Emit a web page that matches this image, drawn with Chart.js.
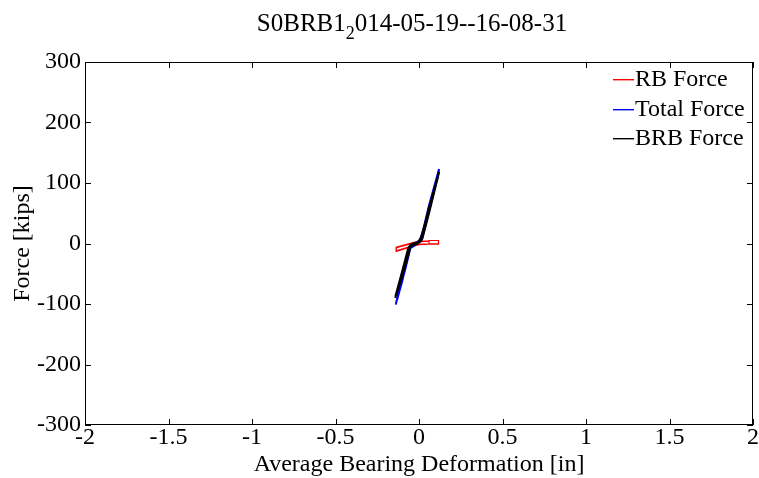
<!DOCTYPE html>
<html>
<head>
<meta charset="utf-8">
<script src="https://cdn.jsdelivr.net/npm/chart.js@4.4.1/dist/chart.umd.min.js"></script>
<style>
  html, body { margin: 0; padding: 0; background: #fff; }
  #wrap { position: relative; width: 759px; height: 478px; }
  #title {
    position: absolute; left: 77px; width: 670px; top: 9px;
    text-align: center; font-family: "Liberation Serif", serif; font-size: 25px; line-height: 28px; color: #000;
  }
  #title sub { font-size: 18px; vertical-align: -8px; line-height: 0; }
  canvas { position: absolute; left: 0; top: 0; }
</style>
</head>
<body>
<div id="wrap">
  <canvas id="myChart" width="759" height="478"></canvas>
  <div id="title">S0BRB1<sub>2</sub>014-05-19--16-08-31</div>
</div>
<script>
// axis ticks
const xTicks = [-2, -1.5, -1, -0.5, 0, 0.5, 1, 1.5, 2];
const yTicks = [-300, -200, -100, 0, 100, 200, 300];

// RB force loop [in, kips]
const rbX = [0.117, 0.06, 0.0, -0.03, -0.137, -0.137, -0.03, 0.0, 0.06, 0.117, 0.117, 0.06, 0.06, 0.06, 0.0, -0.03, -0.135, -0.136, -0.03, 0.0, 0.117];
const rbY = [5, 5, 4, 2, -6, -13, -4, -2, -1, -1, 5, 5, -1, 4, 3, 1, -7, -12, -3, -1, 0];

// total force loops
const totalX = [-0.139, -0.1, -0.065, -0.05, -0.02, 0.005, 0.02, 0.06, 0.12, 0.117, 0.06, 0.02, 0.0, -0.03, -0.055, -0.07, -0.1, -0.139, -0.12, -0.08, -0.06, -0.03, 0.0, 0.015, 0.05, 0.115, 0.112, 0.05, 0.015, -0.01, -0.05, -0.08, -0.13];
const totalY = [-101, -52, -12, -4, 0, 6, 17, 63, 123, 116, 54, 10, 3, -4, -8, -25, -62, -100, -80, -35, -10, -2, 2, 12, 50, 118, 110, 44, 6, 0, -6, -40, -92];

// BRB force loops
const brbX = [-0.142, -0.1, -0.065, -0.05, -0.02, 0.005, 0.02, 0.06, 0.12, 0.115, 0.06, 0.02, 0.0, -0.03, -0.055, -0.07, -0.1, -0.142, -0.125, -0.085, -0.062, -0.035, -0.005, 0.012, 0.05, 0.116, 0.11, 0.05, 0.012, -0.01, -0.05, -0.08, -0.135];
const brbY = [-88, -45, -8, -2, 0, 4, 15, 60, 118, 112, 50, 8, 2, -2, -6, -20, -55, -90, -72, -30, -6, 0, 2, 10, 46, 114, 106, 42, 4, 0, -4, -35, -84];

const toPoints = (xs, ys) => xs.map((x, i) => ({ x: x, y: ys[i] }));

const FONT = '"Liberation Serif", "Times New Roman", serif';
const legendColors = ['#ff0000', '#0000ff', '#000000'];

// draw the box, inward ticks and legend like a MATLAB figure
const matlabAxes = {
  id: 'matlabAxes',
  afterDraw(chart) {
    const ctx = chart.ctx;
    const a = chart.chartArea;
    const xs = chart.scales.x, ys = chart.scales.y;
    ctx.save();
    ctx.strokeStyle = '#000';
    ctx.lineWidth = 1;
    ctx.strokeRect(a.left + 0.5, a.top + 0.5, a.right - a.left - 1, a.bottom - a.top - 1);
    ctx.beginPath();
    xTicks.forEach((v) => {
      const px = Math.round(xs.getPixelForValue(v)) + 0.5;
      ctx.moveTo(px, a.bottom); ctx.lineTo(px, a.bottom - 6);
      ctx.moveTo(px, a.top); ctx.lineTo(px, a.top + 6);
    });
    yTicks.forEach((v) => {
      const py = Math.round(ys.getPixelForValue(v)) + 0.5;
      ctx.moveTo(a.left, py); ctx.lineTo(a.left + 6, py);
      ctx.moveTo(a.right, py); ctx.lineTo(a.right - 6, py);
    });
    ctx.stroke();

    // legend
    ctx.font = '24px ' + FONT;
    ctx.textBaseline = 'middle';
    chart.data.datasets.forEach((ds, i) => {
      const y = Math.round(79 + i * 29.5);
      ctx.fillStyle = legendColors[i];
      ctx.fillRect(613, y, 21, 1.4);
      ctx.fillStyle = '#000';
      ctx.fillText(ds.label, 635, y + 1);
    });
    ctx.restore();
  },
};

const ctx = document.getElementById('myChart').getContext('2d');
window.myChart = new Chart(ctx, {
  type: 'scatter',
  data: {
    datasets: [
      { label: 'RB Force', data: toPoints(rbX, rbY), borderColor: legendColors[0], borderWidth: 1.2, showLine: true, pointRadius: 0, order: 2 },
      { label: 'Total Force', data: toPoints(totalX, totalY), borderColor: legendColors[1], borderWidth: 2, showLine: true, pointRadius: 0, order: 1 },
      { label: 'BRB Force', data: toPoints(brbX, brbY), borderColor: legendColors[2], borderWidth: 2, showLine: true, pointRadius: 0, order: 0 },
    ],
  },
  options: {
    responsive: false,
    animation: false,
    layout: { padding: { top: 62, right: 4, left: 0, bottom: 0 } },
    plugins: { legend: { display: false }, tooltip: { enabled: false } },
    scales: {
      x: {
        type: 'linear', min: -2, max: 2,
        afterBuildTicks: (s) => { s.ticks = xTicks.map((v) => ({ value: v })); },
        afterFit: (s) => { s.height = 53; },
        grid: { display: false, drawTicks: false },
        border: { display: false },
        ticks: { color: '#000', padding: 0, maxRotation: 0, font: { family: FONT, size: 24, lineHeight: 1.1 }, callback: (v) => String(v) },
        title: { display: true, text: 'Average Bearing Deformation [in]', color: '#000', padding: 0, font: { family: FONT, size: 24, lineHeight: 1.1 } },
      },
      y: {
        type: 'linear', min: -300, max: 300,
        afterBuildTicks: (s) => { s.ticks = yTicks.map((v) => ({ value: v })); },
        afterFit: (s) => { s.width = 85; },
        grid: { display: false, drawTicks: false },
        border: { display: false },
        ticks: { color: '#000', padding: 4, font: { family: FONT, size: 24 }, callback: (v) => String(v) },
        title: { display: true, text: 'Force [kips]', color: '#000', padding: { top: 8, bottom: 0 }, font: { family: FONT, size: 24 } },
      },
    },
  },
  plugins: [matlabAxes],
});
</script>
</body>
</html>
